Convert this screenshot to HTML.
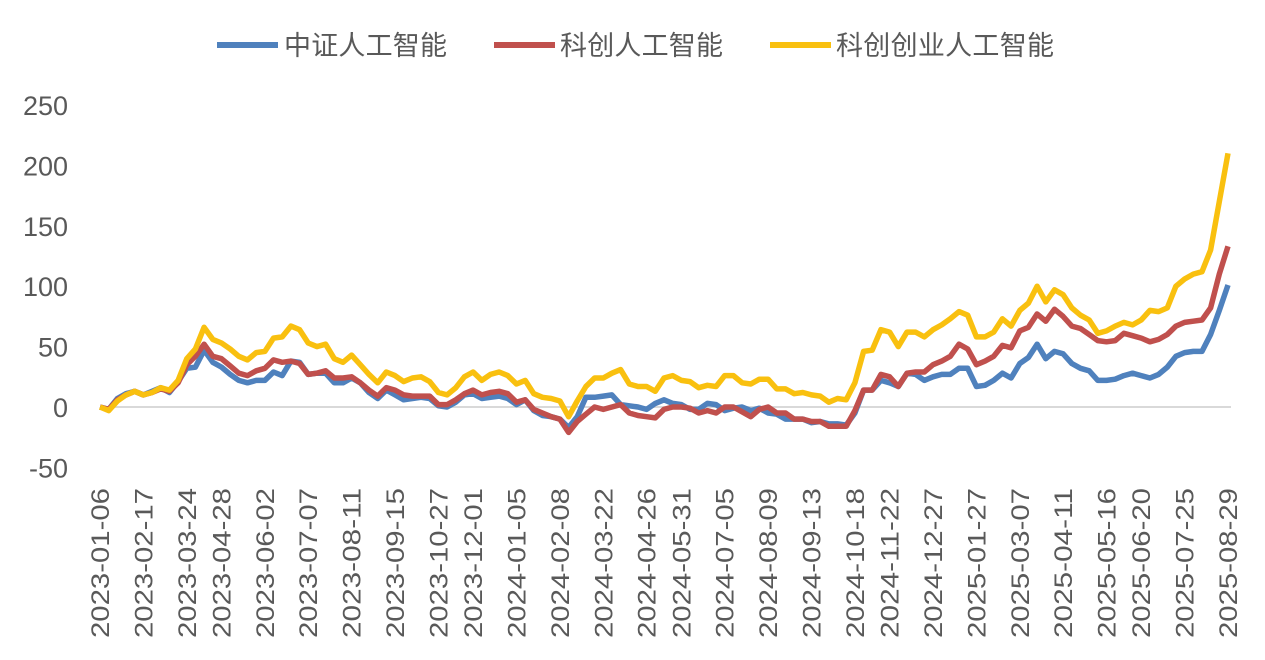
<!DOCTYPE html>
<html><head><meta charset="utf-8"><style>
body{margin:0;background:#fff;}
svg{display:block;font-family:"Liberation Sans","Noto Sans CJK SC",sans-serif;}
</style></head><body>
<svg id="chart" width="1265" height="660" viewBox="0 0 1265 660" xmlns="http://www.w3.org/2000/svg">
<g>
<g><line x1="217" y1="45" x2="278" y2="45" stroke="#4f81bd" stroke-width="6"/><text x="284" y="55" font-size="27" fill="#595959" textLength="163">中证人工智能</text></g>
<g><line x1="494" y1="45" x2="555" y2="45" stroke="#c0504d" stroke-width="6"/><text x="560" y="55" font-size="27" fill="#595959" textLength="163">科创人工智能</text></g>
<g><line x1="770" y1="45" x2="831" y2="45" stroke="#f9c00f" stroke-width="6"/><text x="836" y="55" font-size="27" fill="#595959" textLength="218">科创创业人工智能</text></g>
</g>
<g id="yaxis"></g>
<g id="xaxis"></g>
<g id="series"></g>
</svg>
<script>
const xLabels=["2023-01-06","2023-02-17","2023-03-24","2023-04-28","2023-06-02","2023-07-07","2023-08-11","2023-09-15","2023-10-27","2023-12-01","2024-01-05","2024-02-08","2024-03-22","2024-04-26","2024-05-31","2024-07-05","2024-08-09","2024-09-13","2024-10-18","2024-11-22","2024-12-27","2025-01-27","2025-03-07","2025-04-11","2025-05-16","2025-06-20","2025-07-25","2025-08-29"];
const yTicks=[250,200,150,100,50,0,-50];
const seriesNames=["中证人工智能","科创人工智能","科创创业人工智能"];
const csiAI=[0,-2,7,11,13, 10,13,16,12,21, 32,33,47,37,33, 27,22,20,22,22, 29,26,38,37,27, 28,28,20,20,24, 20,12,7,14,10, 6,7,8,7,1, 0,4,10,11,7, 8,9,7,2,6, -3,-7,-8,-10,-17, -8,8,8,9,10, 2,1,0,-2,3, 6,3,2,-2,-2, 3,2,-3,-1,0, -3,-1,-5,-6,-10, -10,-10,-13,-12,-14, -14,-15,-5,14,14, 22,20,17,28,27, 22,25,27,27,32, 32,17,18,22,28, 24,36,41,52,40, 46,44,36,32,30, 22,22,23,26,28, 26,24,27,33,42, 45,46,46,60,80, 101];
const starAI=[0,-2,6,10,13, 10,12,15,13,20, 35,42,52,42,40, 34,28,26,30,32, 39,37,38,36,27, 28,30,24,24,25, 20,14,9,16,14, 10,9,9,9,2, 2,6,11,14,10, 12,13,11,4,6, -2,-5,-8,-10,-21, -12,-6,0,-2,0, 2,-5,-7,-8,-9, -2,0,0,-1,-5, -3,-5,0,0,-4, -8,-2,0,-5,-5, -10,-10,-12,-12,-16, -16,-16,-3,14,14, 27,25,17,28,29, 29,35,38,42,52, 48,35,38,42,51, 49,63,66,77,71, 81,75,67,65,60, 55,54,55,61,59, 57,54,56,60,67, 70,71,72,82,110, 133];
const starChinextAI=[0,-3,5,10,13, 10,12,16,14,22, 40,48,66,56,53, 48,42,39,45,46, 57,58,67,64,53, 50,52,40,37,43, 35,27,20,29,26, 21,24,25,21,12, 10,16,25,29,22, 27,29,26,19,22, 11,8,7,5,-8, 5,17,24,24,28, 31,19,17,17,13, 24,26,22,21,16, 18,17,26,26,20, 19,23,23,15,15, 11,12,10,9,4, 7,6,20,46,47, 64,62,50,62,62, 58,64,68,73,79, 76,58,58,62,73, 67,80,86,100,87, 97,93,82,76,72, 61,63,67,70,68, 72,80,79,82,100, 106,110,112,130,170, 210];
const NS="http://www.w3.org/2000/svg";
const X0=100,X1=1228,Y0=407,PX=60.4/50;
const n=csiAI.length;
function xs(i){return X0+(X1-X0)*i/(n-1);}
function ys(v){return Y0-v*PX;}
function mk(t,a,p){const e=document.createElementNS(NS,t);for(const k in a)e.setAttribute(k,a[k]);p.appendChild(e);return e;}
const ya=document.getElementById('yaxis');
yTicks.forEach(v=>{
 const t=mk('text',{x:68,y:ys(v)+10,'text-anchor':'end','font-size':27,fill:'#595959'},ya);
 t.textContent=v;
 
 
});
const zl=mk('line',{x1:X0,x2:1231,y1:ys(0),y2:ys(0),stroke:'#d9d9d9','stroke-width':2},ya);


const xa=document.getElementById('xaxis');
xLabels.forEach((l,k)=>{
 const i=Math.round(k*(n-1)/(xLabels.length-1));
 const x=xs(i)+9;
 const t=mk('text',{x:x,y:488,'text-anchor':'end','font-size':25,fill:'#595959',textLength:150,lengthAdjust:'spacingAndGlyphs',transform:`rotate(-90 ${x} 488)`},xa);
 t.textContent=l;
 
 
});
const sg=document.getElementById('series');
[[csiAI,'#4f81bd','series-csi-ai'],[starAI,'#c0504d','series-star-ai'],[starChinextAI,'#f9c00f','series-star-chinext-ai']].forEach(([d,c,nm])=>{
 const p=mk('polyline',{points:d.map((v,i)=>xs(i).toFixed(1)+','+ys(v).toFixed(1)).join(' '),fill:'none',stroke:c,'stroke-width':5.5,'stroke-linejoin':'round'},sg);
 
 
});
</script>
</body></html>
